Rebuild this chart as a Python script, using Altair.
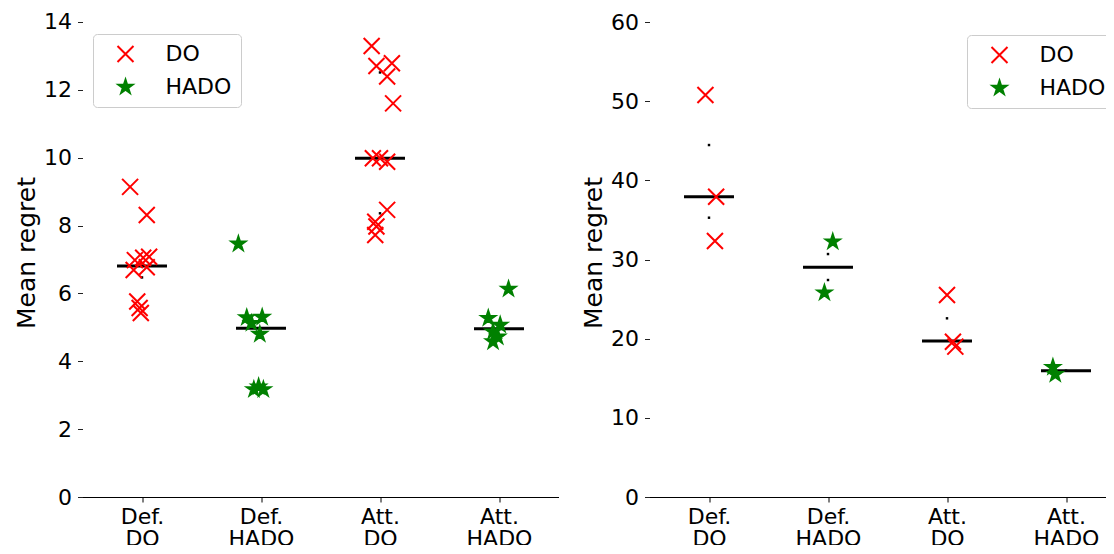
import altair as alt
import pandas as pd

# ---------------- data ----------------
methods = ["DO", "HADO"]
cat_line1 = ["Def.", "Def.", "Att.", "Att."]
cat_line2 = ["DO", "HADO", "DO", "HADO"]   # also the method of each group

# left panel: points (category index, horizontal jitter in category units, value)
left_cat = [0] * 10 + [1] * 8 + [2] * 12 + [3] * 6
left_jit = [-0.10, 0.04, -0.06, 0.01, 0.06, -0.07, 0.04, -0.04, -0.02, -0.01,
            -0.19, -0.12, 0.01, -0.08, -0.01, -0.06, -0.02, 0.02,
            -0.07, -0.03, 0.10, 0.06, 0.11, -0.06, 0.00, 0.06, 0.06, -0.04, -0.03, -0.04,
            0.08, -0.09, 0.01, -0.05, -0.01, -0.05]
left_val = [9.14, 8.31, 6.98, 7.05, 7.08, 6.69, 6.77, 5.76, 5.57, 5.42,
            7.46, 5.29, 5.30, 5.12, 4.80, 3.17, 3.25, 3.17,
            13.29, 12.70, 12.78, 12.39, 11.60, 9.98, 9.98, 9.88, 8.46, 8.11, 7.97, 7.72,
            6.13, 5.27, 5.07, 4.87, 4.72, 4.58]
left_median = [6.81, 4.97, 9.98, 4.96]
left_dot_cat = [0, 2, 2]
left_dot_val = [6.47, 12.51, 8.36]

# right panel
right_cat = [0, 0, 0, 1, 1, 2, 2, 2, 3, 3]
right_jit = [-0.03, 0.06, 0.05, 0.04, -0.03, 0.00, 0.05, 0.07, -0.11, -0.09]
right_val = [50.78, 37.93, 32.34, 32.25, 25.81, 25.51, 19.62, 18.99, 16.4, 15.5]
right_median = [37.93, 29.03, 19.70, 15.95]
right_dot_cat = [0, 0, 1, 1, 2, 3]
right_dot_val = [44.46, 35.28, 30.69, 27.41, 22.57, 15.95]

left_yticks = [0, 2, 4, 6, 8, 10, 12, 14]
right_yticks = [0, 10, 20, 30, 40, 50, 60]

# ---------------- styling ----------------
FONT = "DejaVu Sans"
X_PATH = "M-1,-1L1,1M1,-1L-1,1"
k = 0.92
_star = [(0, -1), (0.2245, -0.309), (0.951, -0.309), (0.363, 0.118), (0.588, 0.809),
         (0, 0.382), (-0.588, 0.809), (-0.363, 0.118), (-0.951, -0.309), (-0.2245, -0.309)]
STAR_PATH = "M" + "L".join(f"{x * k:.4f},{y * k:.4f}" for x, y in _star) + "Z"

label_expr = " : ".join(
    f"datum.value == {i} ? ['{a}', '{b}']" for i, (a, b) in enumerate(zip(cat_line1, cat_line2))
) + " : ''"


def panel(cat, jit, val, med, dcat, dval, ymax, yticks, xmax, lx, ly):
    pts = pd.DataFrame({"cat": cat, "jit": jit, "value": val,
                        "method": [cat_line2[c] for c in cat]})
    meds = pd.DataFrame({"cat": list(range(len(med))), "value": med})
    dots = pd.DataFrame({"cat": dcat, "value": dval})

    xscale = alt.Scale(domain=[-0.5, xmax], nice=False, zero=False)
    yscale = alt.Scale(domain=[0, ymax], nice=False, zero=True)
    xaxis = alt.Axis(values=[0, 1, 2, 3], labelExpr=label_expr, title=None, grid=False,
                     domain=True, domainColor="black", domainWidth=1.2,
                     ticks=True, tickColor="black", tickSize=5, tickWidth=1,
                     labelFontSize=22, labelFont=FONT, labelColor="black",
                     labelPadding=4.5, labelLineHeight=22, labelAngle=0)
    yaxis = alt.Axis(values=yticks, title="Mean regret", grid=False, domain=False,
                     ticks=True, tickColor="#222222", tickSize=5, tickWidth=1,
                     labelFontSize=22, labelFont=FONT, labelColor="black", labelPadding=6,
                     titleFontSize=25, titleFont=FONT, titleFontWeight="normal",
                     titleColor="black", titlePadding=4)

    legend = alt.Legend(title=None, orient="none", legendX=lx, legendY=ly,
                        labelFontSize=22, labelFont=FONT, labelColor="black",
                        padding=9, fillColor="white", strokeColor="#cccccc",
                        cornerRadius=4, symbolOffset=12.5, labelOffset=29,
                        rowPadding=9, symbolSize=256, symbolStrokeWidth=2)

    rules = alt.Chart(meds).transform_calculate(
        x1="datum.cat - 0.21", x2="datum.cat + 0.21"
    ).mark_rule(color="black", strokeWidth=3).encode(
        x=alt.X("x1:Q", scale=xscale, axis=xaxis),
        x2="x2:Q",
        y=alt.Y("value:Q", scale=yscale, axis=yaxis),
    )
    dotl = alt.Chart(dots).mark_square(size=6, color="black", opacity=1).encode(
        x=alt.X("cat:Q", scale=xscale, axis=xaxis),
        y=alt.Y("value:Q", scale=yscale, axis=yaxis),
    )
    points = alt.Chart(pts).transform_calculate(
        xpos="datum.cat + datum.jit"
    ).mark_point(opacity=1, size=256, strokeWidth=2).encode(
        x=alt.X("xpos:Q", scale=xscale, axis=xaxis),
        y=alt.Y("value:Q", scale=yscale, axis=yaxis),
        shape=alt.Shape("method:N", scale=alt.Scale(domain=methods, range=[X_PATH, STAR_PATH]), legend=legend),
        fill=alt.Fill("method:N", scale=alt.Scale(domain=methods, range=["transparent", "green"]), legend=legend),
        stroke=alt.Stroke("method:N", scale=alt.Scale(domain=methods, range=["red", "green"]), legend=legend),
    )
    return alt.layer(rules, dotl, points).properties(width=(xmax + 0.5) * 119, height=489)


left = panel(left_cat, left_jit, left_val, left_median, left_dot_cat, left_dot_val,
             14.41, left_yticks, 3.5, 10.5, 26)
right = panel(right_cat, right_jit, right_val, right_median, right_dot_cat, right_dot_val,
              61.77, right_yticks, 3.5, 317.5, 27)

chart = alt.hconcat(left, right, spacing=23).resolve_scale(
    shape="independent", fill="independent", stroke="independent"
).resolve_legend(
    shape="independent", fill="independent", stroke="independent"
).properties(
    padding={"left": 6.5, "top": 0, "right": -20, "bottom": -5},
    background="white",
).configure_view(stroke=None)

chart.save("out.html", embed_options={"renderer": "svg", "actions": False})
